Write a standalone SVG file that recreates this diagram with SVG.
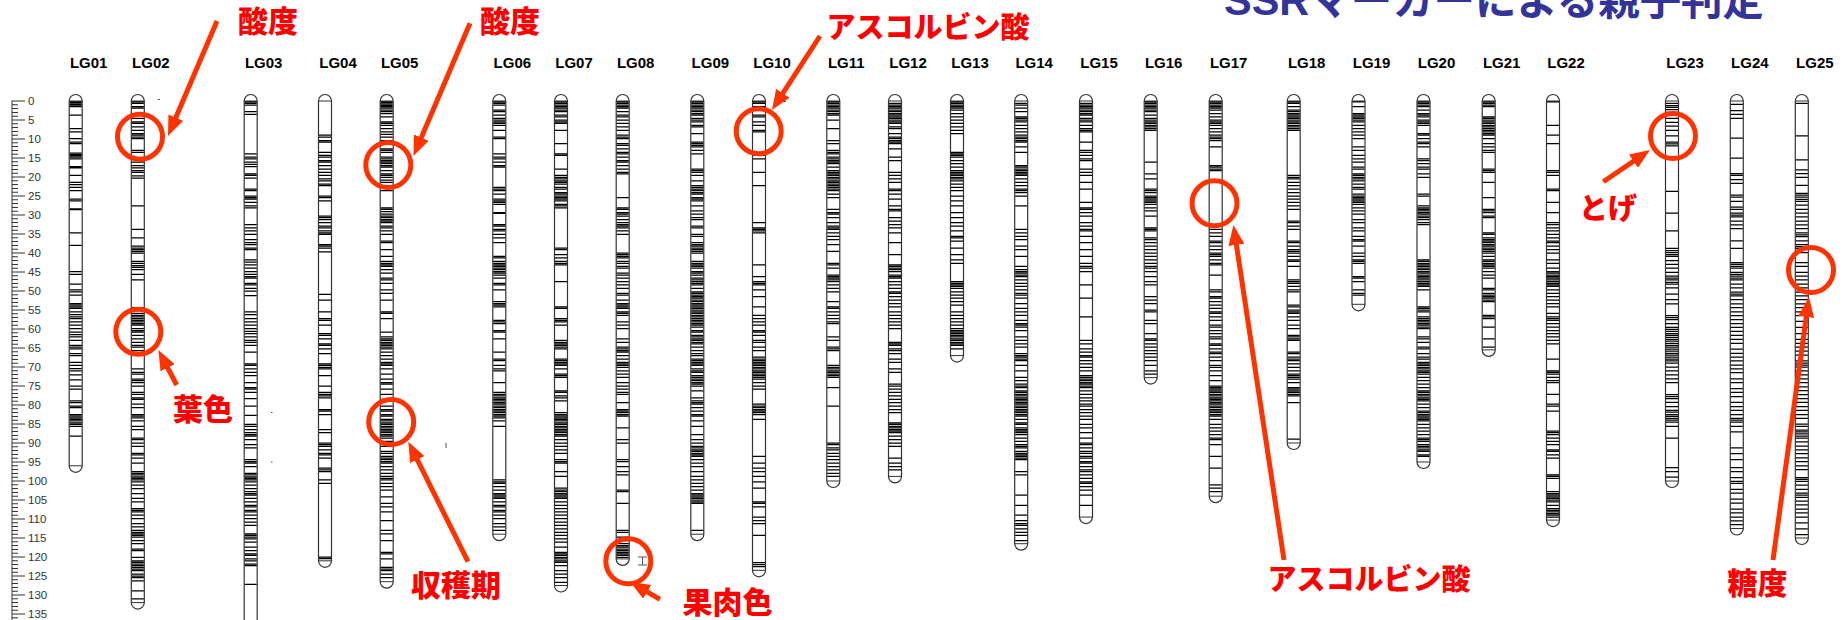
<svg xmlns="http://www.w3.org/2000/svg" width="1847" height="620" viewBox="0 0 1847 620">
<style>
.chr{fill:#fff;stroke:#333;stroke-width:1.2}
.cap{fill:none;stroke:#333;stroke-width:1}
.bd{fill:none;stroke:#000;stroke-width:1.25;vector-effect:non-scaling-stroke}
.lg{font-family:"Liberation Sans",Arial,sans-serif;font-weight:bold;font-size:15px;text-anchor:middle;fill:#000}
.rl{font-family:"Liberation Sans",Arial,sans-serif;font-size:11.5px;fill:#333}
.ann{font-family:"Noto Sans CJK JP",sans-serif;font-weight:900;font-size:30px;fill:#ff0000;text-anchor:middle}
.circ{fill:none;stroke:#ff3300;stroke-width:5}
.arr{fill:none;stroke:#ff3300;stroke-width:5;marker-end:url(#ah)}
.mk{fill:none;stroke:#555;stroke-width:1}
</style>
<defs>
<marker id="ah" viewBox="0 0 4 3.2" refX="2" refY="1.6" markerWidth="4" markerHeight="3.2" orient="auto" markerUnits="strokeWidth"><path d="M0 0L4 1.6L0 3.2Z" fill="#ff3300"/></marker>
</defs>
<rect width="1847" height="620" fill="#fff"/>
<text x="1224" y="15" textLength="540" lengthAdjust="spacingAndGlyphs" style="font-family:'Liberation Sans','Noto Sans CJK JP',sans-serif;font-weight:bold;font-size:42px;fill:#333399">SSRマーカーによる親子判定</text>

<g id="ruler">
<path d="M12 100.5V620" stroke="#333" stroke-width="1"/>
<path d="M15 100.5V620" stroke="#333" stroke-width="6" stroke-dasharray="1 2.8"/>
<path d="M21.5 100.5V620" stroke="#333" stroke-width="7" stroke-dasharray="1 18"/>
<g class="rl">
<text x="28" y="105">0</text><text x="28" y="124">5</text><text x="28" y="143">10</text><text x="28" y="162">15</text><text x="28" y="181">20</text><text x="28" y="200">25</text><text x="28" y="219">30</text><text x="28" y="238">35</text><text x="28" y="257">40</text><text x="28" y="276">45</text><text x="28" y="295">50</text><text x="28" y="314">55</text><text x="28" y="333">60</text><text x="28" y="352">65</text><text x="28" y="371">70</text><text x="28" y="390">75</text><text x="28" y="409">80</text><text x="28" y="428">85</text><text x="28" y="447">90</text><text x="28" y="466">95</text><text x="28" y="485">100</text><text x="28" y="504">105</text><text x="28" y="523">110</text><text x="28" y="542">115</text><text x="28" y="561">120</text><text x="28" y="580">125</text><text x="28" y="599">130</text><text x="28" y="618">135</text>
</g>
</g>

<g id="LG01" transform="translate(75.7,101)"><path class="chr" d="M-6.5 0V364.8A6.5 6.5 0 0 0 6.5 364.8V0A6.5 6.5 0 0 0 -6.5 0Z"/><path class="cap" d="M-6.5 0H6.5M-6.5 364.8H6.5"/><path class="bd" transform="scale(1,3.8)" d="M-6 .2h12M-6 .4h12M-6 .8h12M-6 1.1h12M-6 1.5h12M-6 3.7h12M-6 7.3h12M-6 8.1h12M-6 9.9h12M-6 10.8h12M-6 11.2h12M-6 13.7h12M-6 14.1h12M-6 14.4h12M-6 14.8h12M-6 15.2h12M-6 17.3h12M-6 17.6h12M-6 19.6h12M-6 21.4h12M-6 22h12M-6 22.7h12M-6 23.6h12M-6 25.8h12M-6 26.3h12M-6 28.4h12M-6 28.6h12M-6 34.7h12M-6 38h12M-6 44.9h12M-6 45.6h12M-6 48.2h12M-6 49.7h12M-6 50.2h12M-6 51.1h12M-6 53.3h12M-6 53.7h12M-6 54.2h12M-6 54.6h12M-6 55.5h12M-6 56.2h12M-6 56.8h12M-6 57.3h12M-6 58.1h12M-6 59h12M-6 59.9h12M-6 60.8h12M-6 61.5h12M-6 62.1h12M-6 63h12M-6 64.3h12M-6 64.8h12M-6 65.2h12M-6 66.5h12M-6 67h12M-6 68.8h12M-6 69.6h12M-6 70.4h12M-6 71h12M-6 72.1h12M-6 73.4h12M-6 75h12M-6 75.8h12M-6 78.9h12M-6 79.4h12M-6 80.3h12M-6 80.7h12M-6 82.5h12M-6 82.9h12M-6 83.4h12M-6 83.8h12M-6 84.2h12M-6 84.7h12M-6 85.1h12M-6 85.6h12M-6 88.2h12"/><text class="lg" x="13" y="-33">LG01</text></g>

<g id="LG02" transform="translate(137.8,101)"><path class="chr" d="M-6.5 0V501.6A6.5 6.5 0 0 0 6.5 501.6V0A6.5 6.5 0 0 0 -6.5 0Z"/><path class="cap" d="M-6.5 0H6.5M-6.5 501.6H6.5"/><path class="bd" transform="scale(1,3.8)" d="M-6 .2h12M-6 .6h12M-6 1.5h12M-6 1.9h12M-6 4.6h12M-6 5.5h12M-6 5.9h12M-6 6.8h12M-6 7.7h12M-6 8.6h12M-6 9h12M-6 9.5h12M-6 9.9h12M-6 13h12M-6 13.5h12M-6 16.1h12M-6 17h12M-6 17.6h12M-6 18.3h12M-6 18.8h12M-6 19.7h12M-6 20.3h12M-6 27.6h12M-6 33.8h12M-6 36h12M-6 38.2h12M-6 38.7h12M-6 39.1h12M-6 39.6h12M-6 40h12M-6 42.2h12M-6 42.7h12M-6 43.3h12M-6 43.8h12M-6 44.4h12M-6 45.6h12M-6 47.1h12M-6 54.4h12M-6 55.9h12M-6 56.4h12M-6 56.8h12M-6 57.3h12M-6 57.7h12M-6 58.1h12M-6 58.6h12M-6 59h12M-6 59.9h12M-6 60.4h12M-6 60.8h12M-6 61.7h12M-6 62.6h12M-6 63.5h12M-6 64.3h12M-6 64.8h12M-6 65.7h12M-6 70.5h12M-6 71.4h12M-6 71.9h12M-6 73.2h12M-6 73.6h12M-6 74.1h12M-6 75h12M-6 76.7h12M-6 77.2h12M-6 78.1h12M-6 78.5h12M-6 79.8h12M-6 80.7h12M-6 82.5h12M-6 82.9h12M-6 83.4h12M-6 84.2h12M-6 85.6h12M-6 86.5h12M-6 88.7h12M-6 89.1h12M-6 90h12M-6 90.9h12M-6 92.7h12M-6 93.1h12M-6 94h12M-6 95.3h12M-6 97.5h12M-6 98h12M-6 98.4h12M-6 98.9h12M-6 99.3h12M-6 99.7h12M-6 100.2h12M-6 101.1h12M-6 102h12M-6 103.3h12M-6 104.6h12M-6 105.5h12M-6 107.3h12M-6 107.7h12M-6 108.1h12M-6 109h12M-6 109.9h12M-6 111.2h12M-6 112.1h12M-6 113h12M-6 113.5h12M-6 113.9h12M-6 114.3h12M-6 114.8h12M-6 115.7h12M-6 116.5h12M-6 117.9h12M-6 118.3h12M-6 120.1h12M-6 121h12M-6 121.4h12M-6 121.9h12M-6 122.3h12M-6 122.7h12M-6 123.2h12M-6 123.6h12M-6 124.5h12M-6 125h12M-6 125.4h12M-6 126.3h12M-6 128.9h12M-6 131h12"/><text class="lg" x="13" y="-33">LG02</text></g>

<g id="LG03" transform="translate(250.7,101)"><path class="chr" d="M-6.5 0V551A6.5 6.5 0 0 0 6.5 551V0A6.5 6.5 0 0 0 -6.5 0Z"/><path class="cap" d="M-6.5 0H6.5"/><path class="bd" transform="scale(1,3.8)" d="M-6 .2h12M-6 .6h12M-6 1.1h12M-6 2.8h12M-6 3.5h12M-6 13.9h12M-6 14.8h12M-6 15.2h12M-6 16.1h12M-6 16.7h12M-6 17.3h12M-6 19.2h12M-6 19.6h12M-6 20.3h12M-6 23.2h12M-6 23.6h12M-6 25h12M-6 25.4h12M-6 25.8h12M-6 26.7h12M-6 27.6h12M-6 28.1h12M-6 32.5h12M-6 33.4h12M-6 34.2h12M-6 35.1h12M-6 36.5h12M-6 37.3h12M-6 37.8h12M-6 38.7h12M-6 39.1h12M-6 41.8h12M-6 42.4h12M-6 43.1h12M-6 44h12M-6 44.9h12M-6 45.6h12M-6 46.2h12M-6 46.6h12M-6 48h12M-6 48.4h12M-6 49.3h12M-6 50h12M-6 51.2h12M-6 55.5h12M-6 56.2h12M-6 57.3h12M-6 58.1h12M-6 59h12M-6 59.9h12M-6 60.6h12M-6 61.2h12M-6 62.1h12M-6 63h12M-6 63.5h12M-6 64.3h12M-6 66.1h12M-6 69.2h12M-6 69.6h12M-6 70.5h12M-6 71.4h12M-6 72.3h12M-6 74.1h12M-6 75.4h12M-6 75.8h12M-6 76.7h12M-6 78.3h12M-6 80.3h12M-6 82.7h12M-6 85.1h12M-6 85.6h12M-6 86.5h12M-6 87.3h12M-6 87.8h12M-6 88.2h12M-6 89.1h12M-6 90.4h12M-6 91.3h12M-6 94.4h12M-6 94.9h12M-6 95.3h12M-6 96.2h12M-6 98h12M-6 98.4h12M-6 98.9h12M-6 99.3h12M-6 99.7h12M-6 100.2h12M-6 101.1h12M-6 102h12M-6 102.8h12M-6 103.3h12M-6 103.7h12M-6 104.6h12M-6 105.5h12M-6 106.4h12M-6 106.8h12M-6 107.7h12M-6 108.1h12M-6 109h12M-6 109.9h12M-6 110.8h12M-6 111.7h12M-6 113.9h12M-6 114.3h12M-6 114.8h12M-6 115.2h12M-6 116.1h12M-6 117.4h12M-6 118.3h12M-6 119.2h12M-6 119.6h12M-6 120.5h12M-6 121h12M-6 121.9h12M-6 122.3h12M-6 127.2h12"/><text class="lg" x="13" y="-33">LG03</text></g>

<g id="LG04" transform="translate(325,101)"><path class="chr" d="M-6.5 0V459.8A6.5 6.5 0 0 0 6.5 459.8V0A6.5 6.5 0 0 0 -6.5 0Z"/><path class="cap" d="M-6.5 0H6.5M-6.5 459.8H6.5"/><path class="bd" transform="scale(1,3.8)" d="M-6 9h12M-6 9.5h12M-6 10.4h12M-6 10.8h12M-6 13.5h12M-6 14.3h12M-6 14.8h12M-6 15.7h12M-6 16.1h12M-6 17h12M-6 17.9h12M-6 18.8h12M-6 19.6h12M-6 20.5h12M-6 21h12M-6 21.9h12M-6 22.3h12M-6 25h12M-6 25.4h12M-6 26.3h12M-6 30.3h12M-6 30.7h12M-6 31.2h12M-6 32h12M-6 32.9h12M-6 33.4h12M-6 34.2h12M-6 34.7h12M-6 35.1h12M-6 37.8h12M-6 38.2h12M-6 38.7h12M-6 39.7h12M-6 50.9h12M-6 52.4h12M-6 55.5h12M-6 57.3h12M-6 57.7h12M-6 59h12M-6 61.2h12M-6 61.7h12M-6 62.6h12M-6 63.9h12M-6 64.3h12M-6 65.2h12M-6 66.5h12M-6 69.2h12M-6 69.6h12M-6 70.1h12M-6 70.5h12M-6 72.3h12M-6 75h12M-6 76.7h12M-6 77.2h12M-6 77.6h12M-6 78.1h12M-6 81.2h12M-6 81.6h12M-6 82.5h12M-6 86.5h12M-6 87.3h12M-6 90h12M-6 90.4h12M-6 90.9h12M-6 91.8h12M-6 92.7h12M-6 93.1h12M-6 94h12M-6 96.6h12M-6 97.1h12M-6 97.5h12M-6 99.7h12M-6 100.6h12M-6 120h12M-6 120.4h12"/><text class="lg" x="13" y="-33">LG04</text></g>

<g id="LG05" transform="translate(386.7,101)"><path class="chr" d="M-6.5 0V480.7A6.5 6.5 0 0 0 6.5 480.7V0A6.5 6.5 0 0 0 -6.5 0Z"/><path class="cap" d="M-6.5 0H6.5M-6.5 480.7H6.5"/><path class="bd" transform="scale(1,3.8)" d="M-6 .2h12M-6 .4h12M-6 .8h12M-6 1.2h12M-6 1.5h12M-6 1.9h12M-6 2.4h12M-6 2.8h12M-6 3.3h12M-6 4.2h12M-6 5.5h12M-6 5.9h12M-6 6.4h12M-6 7.3h12M-6 8.1h12M-6 8.8h12M-6 9.5h12M-6 10.4h12M-6 12.6h12M-6 13h12M-6 13.5h12M-6 14.8h12M-6 15.2h12M-6 15.7h12M-6 16.1h12M-6 16.5h12M-6 17h12M-6 17.4h12M-6 18.3h12M-6 19.2h12M-6 19.6h12M-6 20.1h12M-6 20.8h12M-6 21.4h12M-6 23.6h12M-6 28.1h12M-6 28.5h12M-6 29.1h12M-6 29.8h12M-6 30.3h12M-6 30.7h12M-6 31.2h12M-6 31.6h12M-6 32h12M-6 32.9h12M-6 33.4h12M-6 34.2h12M-6 35.1h12M-6 36.9h12M-6 37.3h12M-6 39.1h12M-6 40.9h12M-6 42.2h12M-6 42.7h12M-6 43.1h12M-6 43.5h12M-6 44.4h12M-6 45.3h12M-6 46.6h12M-6 47.1h12M-6 48h12M-6 49.7h12M-6 50.6h12M-6 52.4h12M-6 55.5h12M-6 55.9h12M-6 57.3h12M-6 60.8h12M-6 62.1h12M-6 62.6h12M-6 63h12M-6 63.5h12M-6 63.9h12M-6 64.3h12M-6 64.8h12M-6 65.2h12M-6 66.1h12M-6 67h12M-6 67.9h12M-6 68.8h12M-6 69.2h12M-6 69.6h12M-6 70.5h12M-6 71.9h12M-6 73.2h12M-6 74.1h12M-6 74.5h12M-6 75.8h12M-6 77.2h12M-6 78.5h12M-6 80.3h12M-6 81.2h12M-6 81.6h12M-6 82.5h12M-6 82.9h12M-6 83.8h12M-6 84.2h12M-6 84.7h12M-6 85.1h12M-6 85.6h12M-6 86h12M-6 86.5h12M-6 86.9h12M-6 87.3h12M-6 87.8h12M-6 88.2h12M-6 88.7h12M-6 89.6h12M-6 90.9h12M-6 92.2h12M-6 92.7h12M-6 93.5h12M-6 94h12M-6 94.4h12M-6 94.9h12M-6 95.3h12M-6 96.2h12M-6 97.1h12M-6 98h12M-6 98.8h12M-6 99.3h12M-6 99.7h12M-6 100.6h12M-6 101.5h12M-6 102.4h12M-6 104.2h12M-6 105.9h12M-6 106.8h12M-6 108.1h12M-6 110.4h12M-6 113h12M-6 113.9h12M-6 115.7h12M-6 118.8h12M-6 119.2h12M-6 120.5h12M-6 122.7h12M-6 123.2h12M-6 123.6h12M-6 124.5h12M-6 125.4h12"/><text class="lg" x="13" y="-33">LG05</text></g>

<g id="LG06" transform="translate(499.3,101)"><path class="chr" d="M-6.5 0V433.2A6.5 6.5 0 0 0 6.5 433.2V0A6.5 6.5 0 0 0 -6.5 0Z"/><path class="cap" d="M-6.5 0H6.5M-6.5 433.2H6.5"/><path class="bd" transform="scale(1,3.8)" d="M-6 .2h12M-6 .6h12M-6 1.1h12M-6 2.4h12M-6 2.8h12M-6 3.7h12M-6 4.6h12M-6 5h12M-6 5.5h12M-6 5.9h12M-6 6.4h12M-6 7.7h12M-6 9.5h12M-6 9.9h12M-6 13.9h12M-6 14.8h12M-6 15.2h12M-6 16.1h12M-6 17h12M-6 17.4h12M-6 22.7h12M-6 23.2h12M-6 23.6h12M-6 24.5h12M-6 25.8h12M-6 26.3h12M-6 26.7h12M-6 27.2h12M-6 29.4h12M-6 29.6h12M-6 32.5h12M-6 32.9h12M-6 33.8h12M-6 34.2h12M-6 35.1h12M-6 36h12M-6 37.3h12M-6 40.9h12M-6 41.3h12M-6 42.2h12M-6 42.7h12M-6 43.1h12M-6 43.5h12M-6 44h12M-6 44.4h12M-6 44.9h12M-6 45.3h12M-6 45.8h12M-6 46.6h12M-6 48h12M-6 48.4h12M-6 49.7h12M-6 52.8h12M-6 53.3h12M-6 53.7h12M-6 54.2h12M-6 57.7h12M-6 58.1h12M-6 58.6h12M-6 60.4h12M-6 60.8h12M-6 62.6h12M-6 66.1h12M-6 67.9h12M-6 68.3h12M-6 69.6h12M-6 70.5h12M-6 71h12M-6 74.1h12M-6 76.7h12M-6 77.2h12M-6 77.6h12M-6 78.1h12M-6 78.5h12M-6 78.9h12M-6 79.4h12M-6 79.8h12M-6 80.3h12M-6 80.7h12M-6 81.2h12M-6 81.6h12M-6 82h12M-6 82.5h12M-6 82.9h12M-6 83.4h12M-6 84.2h12M-6 85.6h12M-6 99.7h12M-6 100.2h12M-6 100.6h12M-6 101.5h12M-6 102.4h12M-6 103.3h12M-6 103.7h12M-6 104.2h12M-6 104.6h12M-6 105.5h12M-6 106.4h12M-6 106.8h12M-6 107.7h12M-6 108.1h12M-6 109h12M-6 109.9h12M-6 111.2h12M-6 112.1h12M-6 113h12"/><text class="lg" x="13" y="-33">LG06</text></g>

<g id="LG07" transform="translate(561,101)"><path class="chr" d="M-6.5 0V484.5A6.5 6.5 0 0 0 6.5 484.5V0A6.5 6.5 0 0 0 -6.5 0Z"/><path class="cap" d="M-6.5 0H6.5M-6.5 484.5H6.5"/><path class="bd" transform="scale(1,3.8)" d="M-6 .2h12M-6 .6h12M-6 1.1h12M-6 1.5h12M-6 1.9h12M-6 2.4h12M-6 2.8h12M-6 3.7h12M-6 4.2h12M-6 5h12M-6 5.5h12M-6 5.9h12M-6 7.7h12M-6 11.2h12M-6 13.9h12M-6 14.3h12M-6 17.9h12M-6 19.6h12M-6 20.1h12M-6 20.5h12M-6 21h12M-6 21.4h12M-6 21.9h12M-6 22.7h12M-6 23.2h12M-6 24.1h12M-6 24.5h12M-6 25h12M-6 25.4h12M-6 25.8h12M-6 26.3h12M-6 27.2h12M-6 27.6h12M-6 28.1h12M-6 38.7h12M-6 39.1h12M-6 40.4h12M-6 41.3h12M-6 42.2h12M-6 42.7h12M-6 43.1h12M-6 47.5h12M-6 54.2h12M-6 54.6h12M-6 57.3h12M-6 57.7h12M-6 58.1h12M-6 59h12M-6 63h12M-6 63.5h12M-6 63.9h12M-6 64.3h12M-6 64.8h12M-6 65.2h12M-6 67.9h12M-6 68.3h12M-6 68.8h12M-6 69.2h12M-6 69.6h12M-6 70.5h12M-6 71.9h12M-6 72.3h12M-6 72.7h12M-6 76.3h12M-6 76.7h12M-6 77.6h12M-6 78.1h12M-6 78.9h12M-6 82h12M-6 82.5h12M-6 82.9h12M-6 83.4h12M-6 83.8h12M-6 84.2h12M-6 84.7h12M-6 85.1h12M-6 85.6h12M-6 86h12M-6 86.5h12M-6 86.9h12M-6 87.3h12M-6 87.8h12M-6 88.2h12M-6 89.1h12M-6 90h12M-6 90.9h12M-6 91.8h12M-6 92.7h12M-6 94.4h12M-6 94.9h12M-6 95.3h12M-6 97.5h12M-6 98.8h12M-6 101.9h12M-6 102.4h12M-6 102.8h12M-6 103.3h12M-6 103.7h12M-6 104.2h12M-6 104.6h12M-6 105.5h12M-6 106.4h12M-6 107.3h12M-6 108.1h12M-6 109h12M-6 109.9h12M-6 110.8h12M-6 111.7h12M-6 112.6h12M-6 113.5h12M-6 114.3h12M-6 115.2h12M-6 116.1h12M-6 117.4h12M-6 118.8h12M-6 119.2h12M-6 119.6h12M-6 120.1h12M-6 120.5h12M-6 121h12M-6 121.4h12M-6 122.3h12M-6 123.6h12M-6 124.5h12M-6 125.4h12M-6 126.7h12"/><text class="lg" x="13" y="-33">LG07</text></g>

<g id="LG08" transform="translate(622.7,101)"><path class="chr" d="M-6.5 0V457.9A6.5 6.5 0 0 0 6.5 457.9V0A6.5 6.5 0 0 0 -6.5 0Z"/><path class="cap" d="M-6.5 0H6.5M-6.5 457.9H6.5"/><path class="bd" transform="scale(1,3.8)" d="M-6 .2h12M-6 .6h12M-6 1.1h12M-6 1.5h12M-6 1.9h12M-6 2.8h12M-6 3.7h12M-6 4.2h12M-6 5h12M-6 5.9h12M-6 6.8h12M-6 7.7h12M-6 9h12M-6 9.5h12M-6 9.9h12M-6 11.2h12M-6 11.7h12M-6 12.6h12M-6 13.5h12M-6 13.9h12M-6 14.8h12M-6 15.7h12M-6 16.1h12M-6 17h12M-6 17.9h12M-6 18.8h12M-6 19.2h12M-6 25.4h12M-6 28.1h12M-6 28.5h12M-6 29.4h12M-6 29.8h12M-6 30.3h12M-6 31.2h12M-6 32h12M-6 32.5h12M-6 32.9h12M-6 33.4h12M-6 34.2h12M-6 35.1h12M-6 40h12M-6 40.4h12M-6 40.9h12M-6 41.3h12M-6 42.2h12M-6 42.7h12M-6 43.5h12M-6 44h12M-6 45.3h12M-6 45.8h12M-6 46.6h12M-6 47.5h12M-6 48.4h12M-6 49.3h12M-6 50.6h12M-6 51.1h12M-6 52.4h12M-6 53.3h12M-6 53.7h12M-6 54.2h12M-6 54.6h12M-6 55.5h12M-6 55.9h12M-6 56.4h12M-6 58.1h12M-6 59h12M-6 59.9h12M-6 62.6h12M-6 63.5h12M-6 64.8h12M-6 65.2h12M-6 65.7h12M-6 66.1h12M-6 67h12M-6 67.9h12M-6 68.8h12M-6 69.2h12M-6 69.6h12M-6 70.1h12M-6 71h12M-6 71.9h12M-6 72.7h12M-6 74.1h12M-6 75h12M-6 75.8h12M-6 76.7h12M-6 77.2h12M-6 79.4h12M-6 81.2h12M-6 81.6h12M-6 82h12M-6 82.5h12M-6 82.9h12M-6 86h12M-6 89.1h12M-6 90h12M-6 94.4h12M-6 94.9h12M-6 96.2h12M-6 97.5h12M-6 98.4h12M-6 102.4h12M-6 102.8h12M-6 105.9h12M-6 113h12M-6 113.5h12M-6 114.8h12M-6 115.7h12M-6 116.5h12M-6 117h12M-6 117.4h12M-6 117.9h12M-6 118.3h12M-6 118.8h12M-6 119.2h12M-6 119.6h12M-6 120.1h12"/><text class="lg" x="13" y="-33">LG08</text></g>

<g id="LG09" transform="translate(697.3,101)"><path class="chr" d="M-6.5 0V433.2A6.5 6.5 0 0 0 6.5 433.2V0A6.5 6.5 0 0 0 -6.5 0Z"/><path class="cap" d="M-6.5 0H6.5M-6.5 433.2H6.5"/><path class="bd" transform="scale(1,3.8)" d="M-6 .2h12M-6 .6h12M-6 1.1h12M-6 1.5h12M-6 1.9h12M-6 2.4h12M-6 2.8h12M-6 3.3h12M-6 3.7h12M-6 4.6h12M-6 5h12M-6 5.5h12M-6 6.4h12M-6 6.8h12M-6 8.6h12M-6 10.8h12M-6 11.2h12M-6 11.7h12M-6 12.1h12M-6 13h12M-6 13.9h12M-6 17.9h12M-6 18.3h12M-6 18.8h12M-6 19.6h12M-6 21h12M-6 22.3h12M-6 22.7h12M-6 23.2h12M-6 23.6h12M-6 24.1h12M-6 24.5h12M-6 25.4h12M-6 25.8h12M-6 26.3h12M-6 27.6h12M-6 28.9h12M-6 29.8h12M-6 30.7h12M-6 31.2h12M-6 32.9h12M-6 33.4h12M-6 35.1h12M-6 35.6h12M-6 37.3h12M-6 37.8h12M-6 38.2h12M-6 38.7h12M-6 39.1h12M-6 39.6h12M-6 40h12M-6 42.2h12M-6 42.7h12M-6 43.1h12M-6 43.5h12M-6 44h12M-6 44.9h12M-6 45.3h12M-6 45.8h12M-6 46.6h12M-6 47.1h12M-6 47.5h12M-6 48h12M-6 48.4h12M-6 49.3h12M-6 50.2h12M-6 50.6h12M-6 51.1h12M-6 51.5h12M-6 51.9h12M-6 52.4h12M-6 52.8h12M-6 53.3h12M-6 53.7h12M-6 54.2h12M-6 54.6h12M-6 55h12M-6 55.5h12M-6 55.9h12M-6 56.4h12M-6 56.8h12M-6 57.3h12M-6 57.7h12M-6 58.1h12M-6 58.6h12M-6 59h12M-6 59.5h12M-6 60.4h12M-6 60.8h12M-6 61.7h12M-6 62.1h12M-6 62.6h12M-6 63h12M-6 63.5h12M-6 63.9h12M-6 64.8h12M-6 65.7h12M-6 66.5h12M-6 67h12M-6 67.9h12M-6 68.3h12M-6 68.8h12M-6 69.2h12M-6 69.6h12M-6 70.5h12M-6 71h12M-6 71.4h12M-6 72.3h12M-6 72.7h12M-6 73.2h12M-6 73.6h12M-6 74.1h12M-6 74.5h12M-6 75h12M-6 76.3h12M-6 78.1h12M-6 78.9h12M-6 79.4h12M-6 79.8h12M-6 80.7h12M-6 81.6h12M-6 82.5h12M-6 82.9h12M-6 84.2h12M-6 85.6h12M-6 87.8h12M-6 89.1h12M-6 90h12M-6 90.9h12M-6 91.3h12M-6 91.8h12M-6 92.2h12M-6 92.7h12M-6 93.1h12M-6 93.5h12M-6 94.4h12M-6 95.3h12M-6 96.2h12M-6 97.5h12M-6 98.8h12M-6 99.7h12M-6 100.6h12M-6 101.5h12M-6 102.4h12M-6 103.3h12M-6 103.7h12M-6 104.2h12M-6 104.6h12M-6 105h12M-6 105.5h12M-6 105.9h12M-6 113h12"/><text class="lg" x="13" y="-33">LG09</text></g>

<g id="LG10" transform="translate(759,101)"><path class="chr" d="M-6.5 0V469.3A6.5 6.5 0 0 0 6.5 469.3V0A6.5 6.5 0 0 0 -6.5 0Z"/><path class="cap" d="M-6.5 0H6.5M-6.5 469.3H6.5"/><path class="bd" transform="scale(1,3.8)" d="M-6 .2h12M-6 .6h12M-6 1.5h12M-6 3.7h12M-6 4.2h12M-6 5.5h12M-6 6.4h12M-6 7.7h12M-6 8.1h12M-6 14.3h12M-6 15.2h12M-6 18.8h12M-6 22.3h12M-6 32h12M-6 33.4h12M-6 33.8h12M-6 34.2h12M-6 34.7h12M-6 43.1h12M-6 46.2h12M-6 47.5h12M-6 48h12M-6 48.4h12M-6 49.7h12M-6 51.5h12M-6 54.2h12M-6 56.4h12M-6 57.3h12M-6 58.1h12M-6 59h12M-6 60.4h12M-6 60.8h12M-6 61.7h12M-6 63h12M-6 63.5h12M-6 64.8h12M-6 65.7h12M-6 67.4h12M-6 67.9h12M-6 68.3h12M-6 68.8h12M-6 69.2h12M-6 69.6h12M-6 70.1h12M-6 70.5h12M-6 71h12M-6 71.4h12M-6 71.9h12M-6 72.3h12M-6 72.7h12M-6 73.2h12M-6 74.1h12M-6 75h12M-6 75.8h12M-6 79.8h12M-6 80.3h12M-6 80.7h12M-6 81.2h12M-6 81.6h12M-6 82h12M-6 82.5h12M-6 83.8h12M-6 93.5h12M-6 95.3h12M-6 96.6h12M-6 97.5h12M-6 98.8h12M-6 100.2h12M-6 101.9h12M-6 105.5h12M-6 105.9h12M-6 106.8h12M-6 109.5h12M-6 110.4h12M-6 111.2h12M-6 114.3h12M-6 121.5h12M-6 122h12M-6 122.5h12"/><text class="lg" x="13" y="-33">LG10</text></g>

<g id="LG11" transform="translate(833.3,101)"><path class="chr" d="M-6.5 0V380A6.5 6.5 0 0 0 6.5 380V0A6.5 6.5 0 0 0 -6.5 0Z"/><path class="cap" d="M-6.5 0H6.5M-6.5 380H6.5"/><path class="bd" transform="scale(1,3.8)" d="M-6 .2h12M-6 .6h12M-6 1.1h12M-6 1.5h12M-6 1.9h12M-6 2.4h12M-6 2.8h12M-6 3.3h12M-6 3.7h12M-6 5h12M-6 7.3h12M-6 10.4h12M-6 11.2h12M-6 13h12M-6 13.5h12M-6 13.9h12M-6 14.8h12M-6 15.2h12M-6 15.7h12M-6 16.1h12M-6 16.5h12M-6 17.4h12M-6 18.3h12M-6 18.8h12M-6 19.2h12M-6 19.6h12M-6 20.1h12M-6 20.5h12M-6 21h12M-6 21.4h12M-6 21.9h12M-6 22.3h12M-6 22.7h12M-6 23.2h12M-6 23.6h12M-6 24.5h12M-6 25.4h12M-6 28.5h12M-6 29.4h12M-6 29.8h12M-6 30.7h12M-6 32h12M-6 32.9h12M-6 33.4h12M-6 33.8h12M-6 34.7h12M-6 35.6h12M-6 36.5h12M-6 37.8h12M-6 39.6h12M-6 42.7h12M-6 43.1h12M-6 44h12M-6 45.8h12M-6 46.2h12M-6 46.6h12M-6 47.1h12M-6 47.5h12M-6 48.4h12M-6 49.3h12M-6 50.2h12M-6 52.8h12M-6 54.2h12M-6 54.6h12M-6 55.5h12M-6 56.4h12M-6 57.3h12M-6 58.1h12M-6 58.6h12M-6 62.1h12M-6 63h12M-6 64.8h12M-6 65.2h12M-6 65.7h12M-6 69.6h12M-6 70.1h12M-6 70.5h12M-6 71h12M-6 71.4h12M-6 71.9h12M-6 72.3h12M-6 72.7h12M-6 75.4h12M-6 80.3h12M-6 90h12M-6 90.4h12M-6 91.3h12M-6 91.8h12M-6 92.7h12M-6 93.5h12M-6 94.4h12M-6 95.3h12M-6 96.2h12M-6 97.1h12M-6 98h12M-6 98.8h12"/><text class="lg" x="13" y="-33">LG11</text></g>

<g id="LG12" transform="translate(895,101)"><path class="chr" d="M-6.5 0V375.4A6.5 6.5 0 0 0 6.5 375.4V0A6.5 6.5 0 0 0 -6.5 0Z"/><path class="cap" d="M-6.5 0H6.5M-6.5 375.4H6.5"/><path class="bd" transform="scale(1,3.8)" d="M-6 .6h12M-6 1.1h12M-6 1.5h12M-6 1.9h12M-6 2.4h12M-6 2.8h12M-6 3.3h12M-6 3.7h12M-6 4.2h12M-6 4.6h12M-6 5h12M-6 5.5h12M-6 5.9h12M-6 6.8h12M-6 7.3h12M-6 8.6h12M-6 9.5h12M-6 9.9h12M-6 10.4h12M-6 10.8h12M-6 11.2h12M-6 12.6h12M-6 14.8h12M-6 15.7h12M-6 18.8h12M-6 19.6h12M-6 20.5h12M-6 21.4h12M-6 23.2h12M-6 23.6h12M-6 24.5h12M-6 25.8h12M-6 27.6h12M-6 28.5h12M-6 28.9h12M-6 30.7h12M-6 31.6h12M-6 32.5h12M-6 33.4h12M-6 34.7h12M-6 37.3h12M-6 40.4h12M-6 43.1h12M-6 43.5h12M-6 44h12M-6 44.4h12M-6 44.9h12M-6 45.8h12M-6 46.2h12M-6 46.6h12M-6 47.5h12M-6 48.4h12M-6 49.3h12M-6 50.2h12M-6 50.6h12M-6 51.5h12M-6 52.4h12M-6 53.3h12M-6 54.2h12M-6 55.5h12M-6 56.4h12M-6 57.3h12M-6 58.1h12M-6 59h12M-6 59.9h12M-6 63.5h12M-6 63.9h12M-6 64.3h12M-6 65.2h12M-6 65.7h12M-6 66.5h12M-6 67.9h12M-6 68.8h12M-6 70.5h12M-6 71.4h12M-6 74.5h12M-6 75h12M-6 75.8h12M-6 76.7h12M-6 77.6h12M-6 78.5h12M-6 79.4h12M-6 80.3h12M-6 81.2h12M-6 82h12M-6 84.7h12M-6 85.1h12M-6 85.6h12M-6 86h12M-6 86.5h12M-6 86.9h12M-6 87.3h12M-6 88.2h12M-6 89.1h12M-6 90h12M-6 90.9h12M-6 94h12M-6 95.3h12M-6 96.2h12M-6 97.1h12"/><text class="lg" x="13" y="-33">LG12</text></g>

<g id="LG13" transform="translate(957,101)"><path class="chr" d="M-6.5 0V254.6A6.5 6.5 0 0 0 6.5 254.6V0A6.5 6.5 0 0 0 -6.5 0Z"/><path class="cap" d="M-6.5 0H6.5M-6.5 254.6H6.5"/><path class="bd" transform="scale(1,3.8)" d="M-6 .2h12M-6 .6h12M-6 1.1h12M-6 1.5h12M-6 1.9h12M-6 2.4h12M-6 3.3h12M-6 4.2h12M-6 5h12M-6 5.9h12M-6 6.8h12M-6 7.7h12M-6 8.6h12M-6 13.5h12M-6 13.9h12M-6 14.3h12M-6 14.8h12M-6 15.7h12M-6 16.5h12M-6 17.4h12M-6 18.3h12M-6 18.8h12M-6 19.2h12M-6 19.6h12M-6 20.1h12M-6 20.5h12M-6 21h12M-6 21.9h12M-6 22.7h12M-6 23.6h12M-6 25h12M-6 26.3h12M-6 27.6h12M-6 29.4h12M-6 30.7h12M-6 32h12M-6 32.9h12M-6 34.2h12M-6 35.6h12M-6 36h12M-6 36.9h12M-6 38.7h12M-6 40.4h12M-6 41.8h12M-6 42.7h12M-6 47.5h12M-6 48h12M-6 48.4h12M-6 48.8h12M-6 49.3h12M-6 50.2h12M-6 51.1h12M-6 51.9h12M-6 52.8h12M-6 53.7h12M-6 55.5h12M-6 56.4h12M-6 57.3h12M-6 58.1h12M-6 59h12M-6 59.9h12M-6 60.4h12M-6 60.8h12M-6 61.2h12M-6 61.7h12M-6 62.1h12M-6 62.6h12M-6 63h12M-6 63.5h12M-6 63.9h12M-6 64.3h12M-6 65.2h12"/><text class="lg" x="13" y="-33">LG13</text></g>

<g id="LG14" transform="translate(1021.2,101)"><path class="chr" d="M-6.5 0V442.7A6.5 6.5 0 0 0 6.5 442.7V0A6.5 6.5 0 0 0 -6.5 0Z"/><path class="cap" d="M-6.5 0H6.5M-6.5 442.7H6.5"/><path class="bd" transform="scale(1,3.8)" d="M-6 .6h12M-6 1.1h12M-6 1.9h12M-6 2.8h12M-6 4.2h12M-6 4.6h12M-6 5h12M-6 5.5h12M-6 6.4h12M-6 7.3h12M-6 8.1h12M-6 9h12M-6 9.5h12M-6 9.9h12M-6 10.4h12M-6 10.8h12M-6 12.1h12M-6 13.5h12M-6 17h12M-6 17.4h12M-6 17.9h12M-6 18.3h12M-6 18.8h12M-6 19.2h12M-6 19.6h12M-6 20.5h12M-6 21.4h12M-6 22.3h12M-6 23.2h12M-6 23.6h12M-6 24.1h12M-6 25h12M-6 27.6h12M-6 33.8h12M-6 34.7h12M-6 35.6h12M-6 36.5h12M-6 38.2h12M-6 39.1h12M-6 40.9h12M-6 43.5h12M-6 44.4h12M-6 44.9h12M-6 45.3h12M-6 45.8h12M-6 46.2h12M-6 47.1h12M-6 48h12M-6 48.8h12M-6 49.7h12M-6 50.6h12M-6 51.1h12M-6 51.9h12M-6 53.3h12M-6 54.6h12M-6 55.5h12M-6 56.4h12M-6 57.7h12M-6 58.6h12M-6 59h12M-6 59.5h12M-6 60.4h12M-6 62.1h12M-6 63h12M-6 63.9h12M-6 64.8h12M-6 66.5h12M-6 67h12M-6 67.4h12M-6 67.9h12M-6 68.3h12M-6 69.6h12M-6 71h12M-6 72.7h12M-6 73.6h12M-6 74.5h12M-6 75h12M-6 75.4h12M-6 76.3h12M-6 76.7h12M-6 77.2h12M-6 77.6h12M-6 78.1h12M-6 78.5h12M-6 78.9h12M-6 79.4h12M-6 79.8h12M-6 80.3h12M-6 80.7h12M-6 81.2h12M-6 81.6h12M-6 82h12M-6 82.5h12M-6 82.9h12M-6 83.8h12M-6 84.7h12M-6 85.1h12M-6 86h12M-6 86.5h12M-6 86.9h12M-6 87.3h12M-6 87.8h12M-6 88.7h12M-6 89.6h12M-6 90.4h12M-6 90.9h12M-6 91.3h12M-6 92.2h12M-6 92.7h12M-6 93.1h12M-6 93.5h12M-6 94h12M-6 94.4h12M-6 97.5h12M-6 98.4h12M-6 103.7h12M-6 106.4h12M-6 109h12M-6 110.4h12M-6 111.2h12M-6 111.7h12M-6 112.6h12M-6 113.5h12M-6 114.3h12M-6 115.7h12"/><text class="lg" x="13" y="-33">LG14</text></g>

<g id="LG15" transform="translate(1086,101)"><path class="chr" d="M-6.5 0V416.1A6.5 6.5 0 0 0 6.5 416.1V0A6.5 6.5 0 0 0 -6.5 0Z"/><path class="cap" d="M-6.5 0H6.5M-6.5 416.1H6.5"/><path class="bd" transform="scale(1,3.8)" d="M-6 .6h12M-6 1.1h12M-6 1.5h12M-6 1.9h12M-6 2.4h12M-6 2.8h12M-6 3.3h12M-6 3.7h12M-6 4.6h12M-6 5h12M-6 5.5h12M-6 6.4h12M-6 7.3h12M-6 7.7h12M-6 8.1h12M-6 10.8h12M-6 13h12M-6 13.5h12M-6 14.3h12M-6 15.2h12M-6 15.7h12M-6 17.9h12M-6 18.8h12M-6 19.6h12M-6 21.4h12M-6 23.2h12M-6 26.7h12M-6 28.1h12M-6 28.5h12M-6 29.4h12M-6 30.3h12M-6 32h12M-6 32.9h12M-6 33.8h12M-6 34.2h12M-6 35.6h12M-6 37.3h12M-6 39.1h12M-6 40.9h12M-6 42.7h12M-6 43.5h12M-6 44h12M-6 44.9h12M-6 48.4h12M-6 51.9h12M-6 56.8h12M-6 63h12M-6 63.9h12M-6 65.2h12M-6 66.1h12M-6 67h12M-6 67.4h12M-6 68.3h12M-6 69.2h12M-6 70.1h12M-6 71h12M-6 72.3h12M-6 72.7h12M-6 73.2h12M-6 73.6h12M-6 74.1h12M-6 74.5h12M-6 75h12M-6 75.4h12M-6 76.3h12M-6 77.2h12M-6 78.1h12M-6 78.9h12M-6 79.8h12M-6 80.3h12M-6 81.2h12M-6 82h12M-6 82.9h12M-6 83.8h12M-6 85.1h12M-6 86h12M-6 87.3h12M-6 88.7h12M-6 90h12M-6 90.4h12M-6 91.3h12M-6 92.2h12M-6 92.7h12M-6 93.5h12M-6 94h12M-6 94.9h12M-6 95.3h12M-6 96.2h12M-6 97.1h12M-6 97.5h12M-6 98.4h12M-6 99.3h12M-6 100.2h12M-6 100.6h12M-6 101.5h12M-6 102.4h12M-6 103.7h12M-6 106.4h12"/><text class="lg" x="13" y="-33">LG15</text></g>

<g id="LG16" transform="translate(1150.7,101)"><path class="chr" d="M-6.5 0V276.6A6.5 6.5 0 0 0 6.5 276.6V0A6.5 6.5 0 0 0 -6.5 0Z"/><path class="cap" d="M-6.5 0H6.5M-6.5 276.6H6.5"/><path class="bd" transform="scale(1,3.8)" d="M-6 .2h12M-6 .6h12M-6 1.1h12M-6 1.5h12M-6 1.9h12M-6 2.4h12M-6 2.8h12M-6 3.7h12M-6 4.6h12M-6 5h12M-6 5.5h12M-6 5.9h12M-6 6.4h12M-6 6.8h12M-6 7.3h12M-6 7.7h12M-6 16.1h12M-6 19.2h12M-6 20.5h12M-6 23.2h12M-6 23.6h12M-6 24.1h12M-6 25h12M-6 25.4h12M-6 25.8h12M-6 26.3h12M-6 26.7h12M-6 27.2h12M-6 28.1h12M-6 28.9h12M-6 30.3h12M-6 33.4h12M-6 33.8h12M-6 34.2h12M-6 36h12M-6 36.5h12M-6 37.3h12M-6 38.2h12M-6 39.1h12M-6 40h12M-6 40.9h12M-6 41.8h12M-6 42.7h12M-6 43.5h12M-6 44h12M-6 44.9h12M-6 46.2h12M-6 47.5h12M-6 48.4h12M-6 51.5h12M-6 52.4h12M-6 53.3h12M-6 55h12M-6 55.5h12M-6 57.7h12M-6 58.6h12M-6 61.2h12M-6 62.6h12M-6 63h12M-6 63.9h12M-6 64.8h12M-6 65.7h12M-6 66.5h12M-6 67.4h12M-6 68.3h12M-6 69.6h12M-6 71h12M-6 71.9h12"/><text class="lg" x="13" y="-33">LG16</text></g>

<g id="LG17" transform="translate(1215.7,101)"><path class="chr" d="M-6.5 0V395.2A6.5 6.5 0 0 0 6.5 395.2V0A6.5 6.5 0 0 0 -6.5 0Z"/><path class="cap" d="M-6.5 0H6.5M-6.5 395.2H6.5"/><path class="bd" transform="scale(1,3.8)" d="M-6 .2h12M-6 .6h12M-6 1.1h12M-6 1.5h12M-6 1.9h12M-6 2.4h12M-6 3.3h12M-6 4.2h12M-6 5h12M-6 5.5h12M-6 5.9h12M-6 6.4h12M-6 7.3h12M-6 8.1h12M-6 9h12M-6 9.5h12M-6 9.9h12M-6 10.4h12M-6 12.1h12M-6 17h12M-6 17.4h12M-6 17.9h12M-6 18.3h12M-6 33.8h12M-6 34.7h12M-6 35.6h12M-6 36.9h12M-6 37.3h12M-6 38.2h12M-6 39.1h12M-6 40h12M-6 40.4h12M-6 40.9h12M-6 41.8h12M-6 42.7h12M-6 43.1h12M-6 45.8h12M-6 49.7h12M-6 50.2h12M-6 51.5h12M-6 51.9h12M-6 52.8h12M-6 53.7h12M-6 54.6h12M-6 55.5h12M-6 55.9h12M-6 56.8h12M-6 57.7h12M-6 59h12M-6 59.5h12M-6 60.4h12M-6 61.2h12M-6 62.1h12M-6 62.6h12M-6 63.9h12M-6 64.3h12M-6 65.2h12M-6 66.1h12M-6 66.5h12M-6 67.4h12M-6 68.3h12M-6 69.6h12M-6 70.1h12M-6 71h12M-6 72.3h12M-6 73.6h12M-6 75h12M-6 75.4h12M-6 75.8h12M-6 76.3h12M-6 76.7h12M-6 77.2h12M-6 77.6h12M-6 78.1h12M-6 78.5h12M-6 78.9h12M-6 79.4h12M-6 79.8h12M-6 80.3h12M-6 80.7h12M-6 81.2h12M-6 81.6h12M-6 82h12M-6 82.5h12M-6 82.9h12M-6 83.8h12M-6 85.1h12M-6 86h12M-6 86.9h12M-6 87.8h12M-6 88.7h12M-6 89.1h12M-6 90.4h12M-6 93.5h12M-6 96.6h12M-6 101h12M-6 101.9h12M-6 102.8h12"/><text class="lg" x="13" y="-33">LG17</text></g>

<g id="LG18" transform="translate(1293.7,101)"><path class="chr" d="M-6.5 0V342A6.5 6.5 0 0 0 6.5 342V0A6.5 6.5 0 0 0 -6.5 0Z"/><path class="cap" d="M-6.5 0H6.5M-6.5 342H6.5"/><path class="bd" transform="scale(1,3.8)" d="M-6 .2h12M-6 .6h12M-6 1.5h12M-6 2.4h12M-6 2.8h12M-6 3.3h12M-6 3.7h12M-6 4.2h12M-6 4.6h12M-6 5h12M-6 5.5h12M-6 5.9h12M-6 6.4h12M-6 6.8h12M-6 7.3h12M-6 7.7h12M-6 19.6h12M-6 20.1h12M-6 20.5h12M-6 21.4h12M-6 22.3h12M-6 23.2h12M-6 24.1h12M-6 25h12M-6 25.8h12M-6 26.7h12M-6 27.6h12M-6 28.5h12M-6 31.6h12M-6 32h12M-6 32.9h12M-6 33.8h12M-6 36.9h12M-6 37.3h12M-6 38.2h12M-6 39.1h12M-6 39.6h12M-6 40h12M-6 40.9h12M-6 41.8h12M-6 42.2h12M-6 43.5h12M-6 47.1h12M-6 47.5h12M-6 48h12M-6 48.8h12M-6 49.7h12M-6 50.2h12M-6 53.7h12M-6 54.2h12M-6 55h12M-6 55.5h12M-6 55.9h12M-6 56.8h12M-6 57.7h12M-6 59h12M-6 59.9h12M-6 61.7h12M-6 62.1h12M-6 62.6h12M-6 63h12M-6 66.1h12M-6 66.5h12M-6 67.4h12M-6 67.9h12M-6 68.3h12M-6 69.2h12M-6 70.1h12M-6 71h12M-6 71.9h12M-6 72.3h12M-6 72.7h12M-6 73.2h12M-6 74.1h12M-6 75.4h12M-6 75.8h12M-6 76.3h12M-6 76.7h12M-6 77.2h12M-6 77.6h12M-6 79.4h12M-6 89h12"/><text class="lg" x="13" y="-33">LG18</text></g>

<g id="LG19" transform="translate(1358.5,101)"><path class="chr" d="M-6.5 0V203.3A6.5 6.5 0 0 0 6.5 203.3V0A6.5 6.5 0 0 0 -6.5 0Z"/><path class="cap" d="M-6.5 0H6.5M-6.5 203.3H6.5"/><path class="bd" transform="scale(1,3.8)" d="M-6 .2h12M-6 1.5h12M-6 3.3h12M-6 3.7h12M-6 4.2h12M-6 4.6h12M-6 5h12M-6 5.5h12M-6 6.4h12M-6 7.3h12M-6 8.1h12M-6 9h12M-6 9.9h12M-6 12.1h12M-6 13h12M-6 14.3h12M-6 15.2h12M-6 16.1h12M-6 17.4h12M-6 17.9h12M-6 19.2h12M-6 19.6h12M-6 20.1h12M-6 20.5h12M-6 21h12M-6 21.9h12M-6 22.7h12M-6 23.2h12M-6 24.5h12M-6 25h12M-6 25.4h12M-6 25.8h12M-6 26.3h12M-6 26.7h12M-6 27.2h12M-6 28.1h12M-6 28.9h12M-6 29.8h12M-6 31.2h12M-6 32h12M-6 33.4h12M-6 34.2h12M-6 35.6h12M-6 36.5h12M-6 36.9h12M-6 38.2h12M-6 40h12M-6 40.9h12M-6 41.8h12M-6 42.2h12M-6 42.7h12M-6 46.2h12M-6 46.6h12M-6 47.5h12M-6 49.7h12M-6 50.6h12M-6 51.1h12"/><text class="lg" x="13" y="-33">LG19</text></g>

<g id="LG20" transform="translate(1423.5,101)"><path class="chr" d="M-6.5 0V361A6.5 6.5 0 0 0 6.5 361V0A6.5 6.5 0 0 0 -6.5 0Z"/><path class="cap" d="M-6.5 0H6.5M-6.5 361H6.5"/><path class="bd" transform="scale(1,3.8)" d="M-6 .2h12M-6 .6h12M-6 1.1h12M-6 1.5h12M-6 2.4h12M-6 3.3h12M-6 3.7h12M-6 4.2h12M-6 5h12M-6 5.5h12M-6 5.9h12M-6 6.4h12M-6 8.6h12M-6 9h12M-6 9.9h12M-6 10.8h12M-6 11.2h12M-6 12.1h12M-6 15.2h12M-6 15.7h12M-6 16.5h12M-6 17.4h12M-6 17.9h12M-6 19.2h12M-6 20.1h12M-6 24.5h12M-6 25h12M-6 27.6h12M-6 28.1h12M-6 28.5h12M-6 28.9h12M-6 29.4h12M-6 29.8h12M-6 30.3h12M-6 30.7h12M-6 31.2h12M-6 32h12M-6 32.5h12M-6 41.8h12M-6 42.2h12M-6 42.7h12M-6 43.1h12M-6 43.5h12M-6 44h12M-6 44.4h12M-6 44.9h12M-6 45.3h12M-6 45.8h12M-6 46.2h12M-6 46.6h12M-6 47.1h12M-6 47.5h12M-6 48h12M-6 48.4h12M-6 48.8h12M-6 49.7h12M-6 54.2h12M-6 54.6h12M-6 55h12M-6 55.5h12M-6 56.8h12M-6 57.3h12M-6 57.7h12M-6 58.1h12M-6 58.6h12M-6 59h12M-6 59.5h12M-6 59.9h12M-6 62.1h12M-6 62.6h12M-6 63.5h12M-6 64.8h12M-6 65.2h12M-6 66.5h12M-6 67.4h12M-6 67.9h12M-6 68.8h12M-6 69.2h12M-6 69.6h12M-6 70.1h12M-6 70.5h12M-6 71h12M-6 71.4h12M-6 71.9h12M-6 72.7h12M-6 73.6h12M-6 74.5h12M-6 75.4h12M-6 76.3h12M-6 76.7h12M-6 77.2h12M-6 77.6h12M-6 78.1h12M-6 78.5h12M-6 78.9h12M-6 79.8h12M-6 80.7h12M-6 81.6h12M-6 82h12M-6 82.5h12M-6 82.9h12M-6 83.4h12M-6 83.8h12M-6 84.2h12M-6 85.1h12M-6 86h12M-6 86.9h12M-6 87.8h12M-6 88.7h12M-6 89.1h12M-6 89.6h12M-6 90.4h12M-6 90.9h12M-6 91.3h12M-6 91.8h12M-6 92.2h12M-6 93.1h12M-6 93.5h12"/><text class="lg" x="13" y="-33">LG20</text></g>

<g id="LG21" transform="translate(1488.7,101)"><path class="chr" d="M-6.5 0V248.9A6.5 6.5 0 0 0 6.5 248.9V0A6.5 6.5 0 0 0 -6.5 0Z"/><path class="cap" d="M-6.5 0H6.5M-6.5 248.9H6.5"/><path class="bd" transform="scale(1,3.8)" d="M-6 .2h12M-6 .6h12M-6 1.1h12M-6 1.5h12M-6 4.2h12M-6 4.6h12M-6 5h12M-6 5.5h12M-6 5.9h12M-6 6.4h12M-6 6.8h12M-6 7.3h12M-6 7.7h12M-6 8.1h12M-6 8.6h12M-6 9h12M-6 9.9h12M-6 11.2h12M-6 12.1h12M-6 13h12M-6 13.5h12M-6 17.9h12M-6 18.3h12M-6 18.8h12M-6 21.4h12M-6 25.4h12M-6 28.5h12M-6 28.9h12M-6 29.4h12M-6 30.3h12M-6 30.7h12M-6 34.7h12M-6 35.1h12M-6 36h12M-6 36.5h12M-6 36.9h12M-6 37.3h12M-6 37.8h12M-6 38.2h12M-6 38.7h12M-6 39.1h12M-6 39.6h12M-6 40h12M-6 40.9h12M-6 41.8h12M-6 42.2h12M-6 42.7h12M-6 43.1h12M-6 43.5h12M-6 44h12M-6 44.9h12M-6 45.8h12M-6 46.6h12M-6 49.3h12M-6 49.7h12M-6 50.6h12M-6 51.1h12M-6 51.5h12M-6 51.9h12M-6 52.4h12M-6 52.8h12M-6 56.4h12M-6 56.8h12M-6 57.3h12M-6 59.5h12M-6 62.6h12M-6 64.8h12"/><text class="lg" x="13" y="-33">LG21</text></g>

<g id="LG22" transform="translate(1553,101)"><path class="chr" d="M-6.5 0V419.1A6.5 6.5 0 0 0 6.5 419.1V0A6.5 6.5 0 0 0 -6.5 0Z"/><path class="cap" d="M-6.5 0H6.5M-6.5 419.1H6.5"/><path class="bd" transform="scale(1,3.8)" d="M-6 .2h12M-6 6.4h12M-6 9h12M-6 11.2h12M-6 18.3h12M-6 18.8h12M-6 19.6h12M-6 23.2h12M-6 23.6h12M-6 26.7h12M-6 29.4h12M-6 32h12M-6 32.5h12M-6 33.4h12M-6 34.2h12M-6 35.1h12M-6 36h12M-6 36.9h12M-6 37.3h12M-6 38.2h12M-6 39.1h12M-6 40h12M-6 41.8h12M-6 42.7h12M-6 44h12M-6 44.9h12M-6 45.3h12M-6 45.8h12M-6 46.2h12M-6 46.6h12M-6 47.1h12M-6 47.5h12M-6 48h12M-6 48.4h12M-6 48.8h12M-6 49.7h12M-6 50.6h12M-6 51.5h12M-6 52.4h12M-6 53.3h12M-6 54.2h12M-6 55.9h12M-6 56.8h12M-6 57.3h12M-6 57.7h12M-6 58.6h12M-6 59.5h12M-6 60.4h12M-6 61.2h12M-6 62.1h12M-6 63h12M-6 63.9h12M-6 67.9h12M-6 71h12M-6 71.4h12M-6 71.9h12M-6 72.7h12M-6 73.6h12M-6 74.1h12M-6 77.2h12M-6 79.8h12M-6 80.3h12M-6 81.6h12M-6 86.9h12M-6 87.3h12M-6 87.8h12M-6 88.7h12M-6 89.6h12M-6 90.4h12M-6 91.8h12M-6 92.2h12M-6 93.1h12M-6 94h12M-6 98.4h12M-6 98.8h12M-6 99.3h12M-6 102.8h12M-6 103.3h12M-6 103.7h12M-6 104.2h12M-6 104.6h12M-6 105h12M-6 105.5h12M-6 106.4h12M-6 107.3h12M-6 107.7h12M-6 108.1h12M-6 108.6h12M-6 109h12M-6 109.5h12"/><text class="lg" x="13" y="-33">LG22</text></g>

<g id="LG23" transform="translate(1672,101)"><path class="chr" d="M-6.5 0V380A6.5 6.5 0 0 0 6.5 380V0A6.5 6.5 0 0 0 -6.5 0Z"/><path class="cap" d="M-6.5 0H6.5M-6.5 380H6.5"/><path class="bd" transform="scale(1,3.8)" d="M-6 .6h12M-6 1.2h12M-6 1.7h12M-6 2.3h12M-6 3h12M-6 3.7h12M-6 4.6h12M-6 5.6h12M-6 6.6h12M-6 7.7h12M-6 9.2h12M-6 10.8h12M-6 11.3h12M-6 11.8h12M-6 23.8h12M-6 29.5h12M-6 34.2h12M-6 38.8h12M-6 39.4h12M-6 39.9h12M-6 40.4h12M-6 40.9h12M-6 42h12M-6 43h12M-6 44h12M-6 45.1h12M-6 46.1h12M-6 46.6h12M-6 47.1h12M-6 47.7h12M-6 48.2h12M-6 49.2h12M-6 50.8h12M-6 52.3h12M-6 53.4h12M-6 56.5h12M-6 57h12M-6 57.5h12M-6 58.6h12M-6 59.6h12M-6 60.1h12M-6 60.6h12M-6 61.2h12M-6 61.7h12M-6 62.2h12M-6 62.7h12M-6 63.2h12M-6 63.8h12M-6 64.3h12M-6 64.8h12M-6 65.3h12M-6 65.8h12M-6 66.4h12M-6 66.9h12M-6 67.4h12M-6 67.9h12M-6 68.4h12M-6 69h12M-6 70h12M-6 71h12M-6 72.1h12M-6 73.1h12M-6 74.1h12M-6 77.3h12M-6 77.8h12M-6 78.3h12M-6 79.3h12M-6 80.4h12M-6 81.4h12M-6 81.9h12M-6 82.5h12M-6 83h12M-6 83.5h12M-6 84h12M-6 84.5h12M-6 85.6h12M-6 88.7h12M-6 96.5h12M-6 97.5h12M-6 99h12"/><text class="lg" x="13" y="-33">LG23</text></g>

<g id="LG24" transform="translate(1736.8,101)"><path class="chr" d="M-6.5 0V427.5A6.5 6.5 0 0 0 6.5 427.5V0A6.5 6.5 0 0 0 -6.5 0Z"/><path class="cap" d="M-6.5 0H6.5M-6.5 427.5H6.5"/><path class="bd" transform="scale(1,3.8)" d="M-6 .9h12M-6 2.5h12M-6 3.5h12M-6 4.6h12M-6 9.8h12M-6 15h12M-6 19.1h12M-6 19.6h12M-6 20.7h12M-6 21.7h12M-6 24.8h12M-6 25.3h12M-6 26.4h12M-6 27.9h12M-6 28.5h12M-6 29.5h12M-6 30h12M-6 30.5h12M-6 31.6h12M-6 32.6h12M-6 33.6h12M-6 36.8h12M-6 38.8h12M-6 42.5h12M-6 43h12M-6 43.5h12M-6 44h12M-6 45.1h12M-6 45.6h12M-6 46.1h12M-6 46.6h12M-6 47.1h12M-6 48.2h12M-6 49.2h12M-6 50.3h12M-6 50.8h12M-6 51.3h12M-6 52.3h12M-6 53.4h12M-6 54.4h12M-6 55.5h12M-6 56.5h12M-6 57.5h12M-6 58.6h12M-6 59.6h12M-6 60.6h12M-6 61.7h12M-6 62.7h12M-6 63.8h12M-6 65.3h12M-6 66.4h12M-6 67.4h12M-6 68.4h12M-6 69.5h12M-6 70.5h12M-6 71.5h12M-6 73.1h12M-6 74.1h12M-6 75.7h12M-6 76.7h12M-6 77.8h12M-6 79.3h12M-6 80.4h12M-6 81.4h12M-6 82.5h12M-6 83.5h12M-6 84h12M-6 84.5h12M-6 85.6h12M-6 87.1h12M-6 91.3h12M-6 92.8h12M-6 94.4h12M-6 96.5h12M-6 97.5h12M-6 99.1h12M-6 100.1h12M-6 100.6h12M-6 102.2h12M-6 103.2h12M-6 104.8h12M-6 105.8h12M-6 107.4h12M-6 108.4h12M-6 109.5h12M-6 110.5h12M-6 111.5h12"/><text class="lg" x="13" y="-33">LG24</text></g>

<g id="LG25" transform="translate(1801.8,101)"><path class="chr" d="M-6.5 0V437A6.5 6.5 0 0 0 6.5 437V0A6.5 6.5 0 0 0 -6.5 0Z"/><path class="cap" d="M-6.5 0H6.5M-6.5 437H6.5"/><path class="bd" transform="scale(1,3.8)" d="M-6 .6h12M-6 9.2h12M-6 15.5h12M-6 18.1h12M-6 19.1h12M-6 20.1h12M-6 22.2h12M-6 24.3h12M-6 24.8h12M-6 25.3h12M-6 25.9h12M-6 26.4h12M-6 27.4h12M-6 28.5h12M-6 29.5h12M-6 30.5h12M-6 31.6h12M-6 32.6h12M-6 33.6h12M-6 34.7h12M-6 35.2h12M-6 35.7h12M-6 36.8h12M-6 37.8h12M-6 38.3h12M-6 38.8h12M-6 39.9h12M-6 42.5h12M-6 43.5h12M-6 45.1h12M-6 46.1h12M-6 47.1h12M-6 48.2h12M-6 49.2h12M-6 50.3h12M-6 51.3h12M-6 52.3h12M-6 53.4h12M-6 54.4h12M-6 55.5h12M-6 56.5h12M-6 58h12M-6 59.6h12M-6 61.2h12M-6 62.7h12M-6 63.8h12M-6 64.8h12M-6 65.8h12M-6 66.9h12M-6 68.4h12M-6 69h12M-6 69.5h12M-6 70h12M-6 71h12M-6 72.1h12M-6 73.1h12M-6 74.1h12M-6 75.2h12M-6 76.2h12M-6 77.3h12M-6 78.3h12M-6 79.3h12M-6 80.4h12M-6 81.4h12M-6 82.5h12M-6 83.5h12M-6 85h12M-6 85.6h12M-6 86.6h12M-6 87.1h12M-6 87.6h12M-6 88.2h12M-6 88.7h12M-6 89.7h12M-6 90.8h12M-6 91.8h12M-6 92.8h12M-6 93.9h12M-6 94.9h12M-6 96h12M-6 97h12M-6 99.1h12M-6 99.6h12M-6 100.1h12M-6 101.1h12M-6 102.2h12M-6 103.2h12M-6 103.7h12M-6 104.3h12M-6 105.3h12M-6 106.3h12M-6 107.4h12M-6 108.4h12M-6 109.5h12M-6 111h12M-6 112.6h12M-6 114.1h12"/><text class="lg" x="13" y="-33">LG25</text></g>

<g id="qtl-marks" class="mk">
<path d="M158 99.5h2"/><path d="M271 412.5h1.5M271 462h1.5"/><path d="M446 443v5"/><path d="M638 557h9M642.5 557v8M638 565h9"/><path d="M782 101.5h4"/>
</g>

<g id="annotations">
<circle class="circ" cx="140" cy="136.7" r="22.5"/>
<circle class="circ" cx="138.3" cy="331.7" r="22.5"/>
<circle class="circ" cx="388.3" cy="165" r="22.5"/>
<circle class="circ" cx="391.2" cy="422" r="22.5"/>
<circle class="circ" cx="628.3" cy="561.3" r="22.5"/>
<circle class="circ" cx="758.7" cy="131.2" r="22.5"/>
<circle class="circ" cx="1214.5" cy="203.3" r="22.5"/>
<circle class="circ" cx="1673" cy="136" r="22.5"/>
<circle class="circ" cx="1811" cy="270" r="22.5"/>
<text class="ann" x="268" y="32">酸度</text>
<text class="ann" x="203" y="420">葉色</text>
<text class="ann" x="510" y="32">酸度</text>
<text class="ann" x="456" y="596">収穫期</text>
<text class="ann" x="727.5" y="613">果肉色</text>
<text class="ann" x="928" y="38" style="font-size:29px">アスコルビン酸</text>
<text class="ann" x="1369" y="590" style="font-size:29px">アスコルビン酸</text>
<text class="ann" x="1608" y="219" style="font-size:29px">とげ</text>
<text class="ann" x="1757.5" y="594">糖度</text>
</g>

<g id="connectors">
<line class="arr" x1="217" y1="21" x2="171.9" y2="126.8"/>
<line class="arr" x1="176.7" y1="385" x2="163" y2="358.9"/>
<line class="arr" x1="470" y1="23.3" x2="417.4" y2="146.8"/>
<line class="arr" x1="468" y1="561.7" x2="412.8" y2="450.7"/>
<line class="arr" x1="660" y1="599.3" x2="638.6" y2="586.8"/>
<line class="arr" x1="820" y1="36" x2="777.4" y2="101.6"/>
<line class="arr" x1="1284" y1="560" x2="1234.9" y2="234.9"/>
<line class="arr" x1="1603.3" y1="181.8" x2="1641.7" y2="155.6"/>
<line class="arr" x1="1773" y1="560" x2="1807.6" y2="306.9"/>
</g>
</svg>
